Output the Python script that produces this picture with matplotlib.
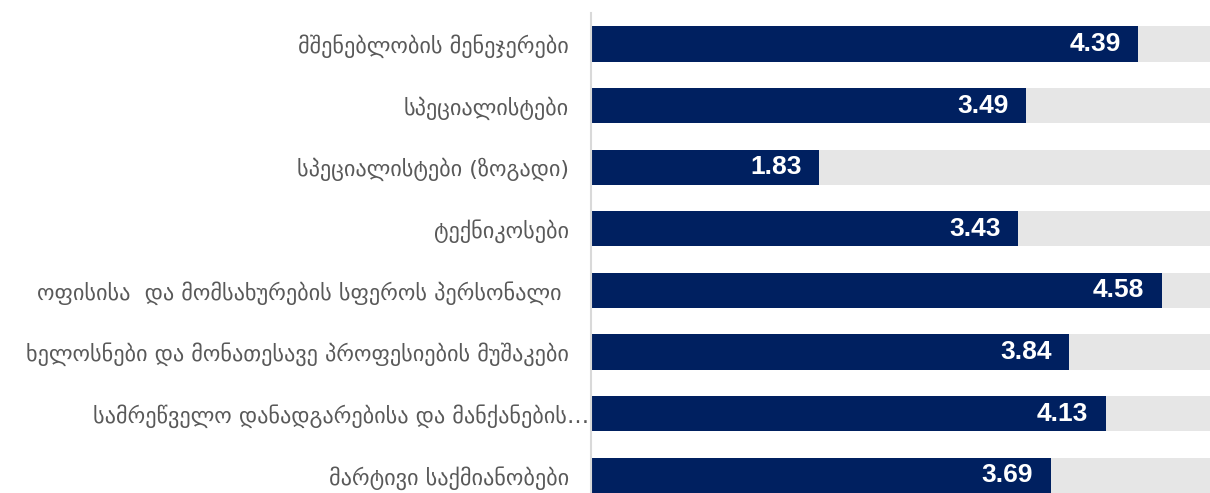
import matplotlib
matplotlib.use("Agg")
from matplotlib import pyplot as plt
from matplotlib.transforms import ScaledTranslation

categories = [
    "მშენებლობის მენეჯერები",
    "სპეციალისტები",
    "სპეციალისტები (ზოგადი)",
    "ტექნიკოსები",
    "ოფისისა  და მომსახურების სფეროს პერსონალი ",
    "ხელოსნები და მონათესავე პროფესიების მუშაკები",
    "სამრეწველო დანადგარებისა და მანქანების…",
    "მარტივი საქმიანობები",
]
scores = [4.39, 3.49, 1.83, 3.43, 4.58, 3.84, 4.13, 3.69]
scale_max = 5

navy = "#002060"
track = "#E6E6E6"

W, H = 1210, 493
fig = plt.figure(figsize=(W / 100, H / 100), dpi=100)
# left edge of plot at the value axis, right edge at the scale maximum
ax = fig.add_axes([591 / W, 0, (1214 - 591) / W, 480 / H])

pos = list(range(len(categories)))
ax.barh(pos, [scale_max] * len(pos), height=0.57, color=track, zorder=1)
ax.barh(pos, scores, height=0.57, color=navy, zorder=2)

for y, v in zip(pos, scores):
    ax.text(v - 0.14, y, f"{v:.2f}", ha="right", va="center",
            color="white", fontsize=19, fontweight="bold",
            family="Liberation Sans", zorder=3)

ax.set_xlim(0, scale_max)
ax.set_ylim(7.29, -0.503)
ax.set_yticks(pos)
ax.set_yticklabels(categories, fontsize=16, color="#595959", family="DejaVu Sans")
ax.tick_params(axis="y", length=0, pad=16)
ax.set_xticks([])

# the clipped label runs right up to the axis
lbl = ax.get_yticklabels()[6]
lbl.set_transform(lbl.get_transform() + ScaledTranslation(0.2, 0, fig.dpi_scale_trans))

for s in ["top", "right", "bottom"]:
    ax.spines[s].set_visible(False)
ax.spines["left"].set_color("#D9D9D9")
ax.spines["left"].set_linewidth(1.5)

fig.savefig("out.png", dpi=100)
